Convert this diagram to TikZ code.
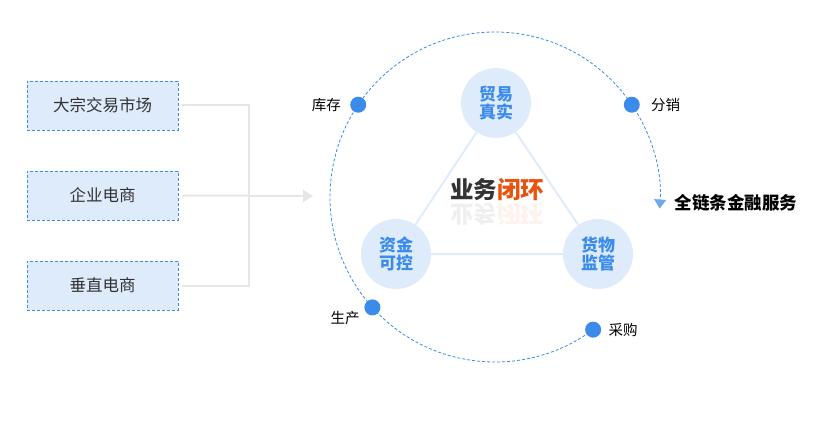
\documentclass[tikz,border=0pt]{standalone}
\usepackage{fontspec}
\setmainfont{Noto Sans CJK SC}
\usetikzlibrary{positioning,arrows.meta}
\definecolor{boxfill}{HTML}{DDEBFB}
\definecolor{boxline}{HTML}{3B8BEB}
\definecolor{wire}{HTML}{E6E6E6}
\definecolor{tipblue}{HTML}{6FA8EE}
\definecolor{keyblue}{HTML}{3D8CEC}
\definecolor{edgeblue}{HTML}{E0ECFA}
\definecolor{loopred}{HTML}{E8540F}
\definecolor{textgray}{HTML}{333333}
\tikzset{
  srcbox/.style={draw=boxline, fill=boxfill, dash pattern=on 3pt off 2pt, line width=0.8pt,
    minimum width=151pt, minimum height=49pt, font=\fontsize{16.5}{18}\selectfont, text=textgray},
  keynode/.style={circle, fill=boxfill, minimum size=70pt, inner sep=0pt, align=center,
    font=\bfseries\fontsize{17}{18}\selectfont, text=keyblue},
  dot/.style={circle, fill=boxline, minimum size=16pt, inner sep=0pt},
  dotlabel/.style={font=\fontsize{14.5}{16}\selectfont, text=black, inner sep=0pt},
}
\begin{document}
\begin{tikzpicture}[x=1pt, y=1pt]
        \useasboundingbox (0,0) rectangle (831,432);
        \node[srcbox] (src_a) at (102.5, 326.5) {大宗交易市场};
        \node[srcbox] (src_b) at (102.5, 236.5) {企业电商};
        \node[srcbox] (src_c) at (102.5, 146.5) {垂直电商};
        \coordinate (join) at (249, 236);
        \coordinate (feed) at (313, 236);

        \draw[wire, line width=2pt] ([xshift=4pt]src_a.east) -| (join);
        \draw[wire, line width=2pt] ([xshift=4pt]src_c.east) -| (join);
        \draw[wire, line width=2pt, -{Triangle[width=12pt, length=10pt]}] ([xshift=4pt]src_b.east) -- (feed);

        % ring with its stations
        \coordinate (ring_c) at (495, 235);
        \draw[boxline, line width=0.8pt, dash pattern=on 3pt off 2pt,
              -{Triangle[width=12pt, length=9pt, color=tipblue]}]
              ([shift={(-53.5:165)}]ring_c) arc[start angle=-53.5, end angle=-364, radius=165];
        \node[dot] (dot_kc) at ([shift={(146:165)}]ring_c) {};
        \node[dot] (dot_fx) at ([shift={(34:165)}]ring_c) {};
        \node[dot] (dot_sc) at ([shift={(222:165)}]ring_c) {};
        \node[dot] (dot_cg) at ([shift={(-53.5:165)}]ring_c) {};
        \node[dotlabel, left=9pt of dot_kc] (kc) {库存};
        \node[dotlabel, right=11pt of dot_fx] (fx) {分销};
        \node[dotlabel] (sc) at (345, 114) {生产};
        \node[dotlabel, right=7pt of dot_cg] (cg) {采购};
        \node[font=\bfseries\fontsize{17.5}{19}\selectfont, text=black] (fin) at (736, 229) {全链条金融服务};

        % closed loop
        \node[keynode] (trade) at (496, 329) {贸易\\真实};
        \node[keynode] (fund) at (396, 178) {资金\\可控};
        \node[keynode] (goods) at (598, 178) {货物\\监管};
        \draw[edgeblue, line width=2pt] (trade) -- (fund);
        \draw[edgeblue, line width=2pt] (trade) -- (goods);
        \draw[edgeblue, line width=2pt] (fund) -- (goods);
        \node[font=\bfseries\fontsize{23.5}{25}\selectfont] (loop) at (497, 242)
              {\textcolor{textgray}{业务}\textcolor{loopred}{闭环}};
        \node[font=\bfseries\fontsize{23.5}{25}\selectfont, yscale=-1, transform shape, opacity=0.08]
              (loop_mirror) at (497, 218) {\textcolor{textgray}{业务}\textcolor{loopred}{闭环}};
    \end{tikzpicture}
\end{document}
